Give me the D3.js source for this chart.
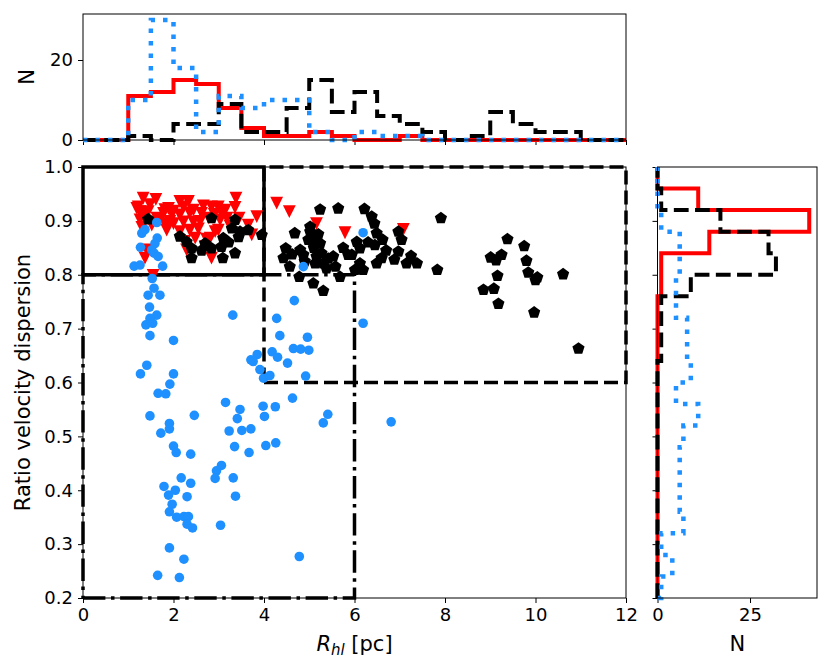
<!DOCTYPE html>
<html><head><meta charset="utf-8">
<script src="https://cdn.jsdelivr.net/npm/d3@7"></script>
<style>body{margin:0;background:#fff} svg text{font-family:"DejaVu Sans",sans-serif;fill:#000}</style>
</head><body>
<svg id="c" width="831" height="667"></svg>
<script>
// ---------------- data ----------------
const xTicks = [0, 2, 4, 6, 8, 10, 12];
const yTicks = [0.2, 0.3, 0.4, 0.5, 0.6, 0.7, 0.8, 0.9, 1.0];
const topYTicks = [0, 20];
const rightXTicks = [0, 25];

// top histogram (R_hl), bin edges and counts
const topEdges = [0,0.5,1,1.5,2,2.5,3,3.5,4,4.5,5,5.5,6,6.5,7,7.5,8,8.5,9,9.5,10,10.5,11,11.5,12];
const topRed   = [0,0,11,12,15,14,8,3,1,1,2,1,0,0,1,0,0,0,0,0,0,0,0,0];
const topBlack = [0,0,1,0,4,4,9,2,2,8,15,7,12,6,4,2,0,1,7,4,2,2,0,0];
const topBlue  = [0,0,10,30,18,2,11,8,10,10,2,0,2,1,1,0,0,0,0,0,0,0,0,0];

// right histogram (velocity dispersion ratio), bin edges bottom->top and counts
const rightEdges = [0.20,0.24,0.28,0.32,0.36,0.40,0.44,0.48,0.52,0.56,0.60,0.64,0.68,0.72,0.76,0.80,0.84,0.88,0.92,0.96,1.00];
const rightRed   = [0,0,0,0,0,0,0,0,0,0,0,0,0,0,1,1,14,41,11,0];
const rightBlack = [0,0,0,0,0,0,0,0,0,0,0,1,1,1,9,32,30,17,1,0];
const rightBlue  = [1,4,1,7,6,6,6,7,11,5,9,8,8,5,5,6,6,1,0,0];

// scatter points [R_hl, ratio]
const bluePoints = [
[1.47,0.740],[1.63,0.725],[1.48,0.719],[1.39,0.707],[1.54,0.710],[1.48,0.687],[2.00,0.678],[3.31,0.725],
[1.41,0.632],[1.27,0.616],[2.00,0.616],[1.92,0.597],[1.66,0.580],[1.83,0.579],
[1.48,0.538],[1.91,0.524],[2.46,0.539],[1.91,0.514],[1.72,0.506],[2.00,0.482],[2.06,0.470],[2.38,0.467],
[2.17,0.423],[1.79,0.407],[2.38,0.413],[2.04,0.400],[1.89,0.391],[2.30,0.388],[1.97,0.374],[1.91,0.360],
[2.07,0.350],[2.23,0.351],[2.33,0.351],[2.30,0.337],[2.42,0.330],[3.04,0.335],[1.91,0.293],[2.23,0.272],
[1.65,0.242],[2.13,0.238],[4.78,0.277],
[3.15,0.563],[3.47,0.550],[3.41,0.533],[3.23,0.510],[3.51,0.511],[3.71,0.514],[3.35,0.481],[3.67,0.470],
[3.06,0.446],[2.95,0.436],[2.92,0.422],[3.32,0.423],[3.37,0.389],
[3.98,0.556],[4.01,0.537],[4.25,0.555],[4.04,0.483],[4.26,0.488],[4.63,0.571],[5.41,0.541],[5.31,0.525],
[4.67,0.752],[4.28,0.719],[4.35,0.687],[4.96,0.684],[4.18,0.657],[4.30,0.647],[4.65,0.663],[4.81,0.662],[4.99,0.660],
[4.52,0.636],[3.85,0.652],[3.71,0.642],[3.76,0.639],[3.91,0.624],[3.99,0.608],[4.13,0.613],[4.92,0.612],
[6.19,0.710],[6.81,0.527],[6.19,0.878],[4.87,0.815],
[1.63,0.897],[1.37,0.884],[1.30,0.877],[1.64,0.868],[1.59,0.858],[1.27,0.851],[1.52,0.846],[1.57,0.840],[1.66,0.834],
[1.13,0.816],[1.26,0.818],[1.76,0.816],[1.53,0.793],[1.57,0.775],[1.44,0.762],[1.70,0.762]
];
const redPoints = [
[1.33,0.942],[1.61,0.940],[1.22,0.926],[1.26,0.917],[1.44,0.917],[2.14,0.936],[2.33,0.936],[2.22,0.926],
[1.89,0.923],[1.78,0.914],[1.96,0.914],[2.14,0.911],[2.44,0.920],[2.62,0.914],[2.84,0.926],[2.99,0.926],
[3.14,0.920],[3.38,0.942],[3.84,0.908],[4.28,0.933],[4.56,0.917],[1.63,0.905],[1.81,0.895],[2.00,0.895],
[2.22,0.898],[2.44,0.898],[3.03,0.902],[3.18,0.905],[3.65,0.892],[1.85,0.883],[2.14,0.880],[2.36,0.883],
[2.48,0.868],[2.81,0.868],[2.99,0.883],[3.73,0.874],[5.16,0.895],[5.79,0.878],[1.41,0.846],[1.37,0.831],
[2.29,0.846],[2.84,0.831],[1.55,0.799],[1.52,0.892],
[1.19,0.923],[1.81,0.921],[2.00,0.918],[3.06,0.915],[1.26,0.902],[1.70,0.902],[1.92,0.899],[2.59,0.899],
[2.92,0.880],[2.73,0.866],[1.35,0.912],[1.48,0.930],[1.30,0.888],[2.36,0.915],[2.25,0.862],
[2.66,0.928],[2.78,0.905],[2.55,0.885],[2.90,0.912],[2.70,0.852],[3.36,0.925],[3.25,0.890],[3.45,0.905],
[5.05,0.860],[7.08,0.884]
];
const blackPoints = [
[1.44,0.903],[2.84,0.905],[3.36,0.902],[3.29,0.886],[3.47,0.880],[3.65,0.883],[3.95,0.874],[2.14,0.871],
[2.29,0.861],[2.40,0.849],[2.40,0.831],[2.70,0.858],[2.84,0.849],[3.10,0.868],[3.06,0.852],[3.09,0.831],
[3.36,0.840],[2.62,0.845],[3.22,0.860],[3.44,0.870],
[5.24,0.921],[5.64,0.923],[4.68,0.877],[5.02,0.880],[5.09,0.865],[4.48,0.849],[4.43,0.831],[4.80,0.846],
[4.87,0.837],[5.24,0.858],[5.16,0.834],[5.31,0.821],[5.53,0.834],[5.68,0.796],[5.09,0.784],[5.31,0.770],
[4.78,0.796],[5.94,0.837],[4.57,0.815],[5.38,0.812],[4.62,0.838],[4.90,0.825],
[6.22,0.922],[6.38,0.908],[6.44,0.895],[5.02,0.889],[4.98,0.865],[5.27,0.840],[5.86,0.837],[6.05,0.861],
[6.12,0.849],[6.49,0.877],[6.45,0.855],[6.97,0.880],[7.04,0.865],[6.97,0.843],[6.60,0.831],[6.49,0.821],
[7.15,0.821],[7.38,0.821],[5.13,0.821],[6.12,0.821],[6.19,0.809],[6.01,0.809],
[5.10,0.850],[5.20,0.875],[5.42,0.830],[5.75,0.850],[5.58,0.815],[6.30,0.860],[6.70,0.845],[6.88,0.828],
[6.62,0.865],[7.25,0.835],
[7.91,0.905],[7.83,0.809],[9.38,0.866],[9.75,0.853],[9.01,0.832],[9.25,0.837],[9.13,0.827],[9.80,0.826],
[9.16,0.798],[9.84,0.804],[10.04,0.795],[10.61,0.801],[8.85,0.772],[9.08,0.774],[9.18,0.746],[9.97,0.730],
[10.95,0.663],[10.00,0.790]
];

// selection boxes [x0, x1, y0, y1]
const boxSolid   = [0, 4, 0.8, 1.0];
const boxDashed  = [4, 12, 0.6, 1.0];
const boxDashDot = [0, 6, 0.2, 0.8];

// ---------------- layout ----------------
const svg = d3.select('#c');
const M = {l:83, r:626, t:167, b:598};
const T = {t:14, b:140};
const R = {l:657.5, r:817};
const FS = 18;

const x = d3.scaleLinear([0, 12], [M.l, M.r]);
const y = d3.scaleLinear([0.2, 1.0], [M.b, M.t]);
const yTop = d3.scaleLinear([0, 31.5], [T.b, T.t]);
const xRight = d3.scaleLinear([0, 43.1], [R.l, R.r]);

function styleAxis(g){
  g.select('.domain').remove();
  g.selectAll('.tick line').attr('stroke','#000').attr('stroke-width',1);
  g.selectAll('.tick text').attr('font-size',FS).style('font-family','"DejaVu Sans",sans-serif');
}

// main axes
svg.append('g').attr('transform',`translate(0,${M.b})`)
  .call(d3.axisBottom(x).tickValues(xTicks).tickFormat(d3.format('d')).tickSize(5).tickPadding(5)).call(styleAxis);
svg.append('g').attr('transform',`translate(${M.l},0)`)
  .call(d3.axisLeft(y).tickValues(yTicks).tickFormat(d3.format('.1f')).tickSize(5).tickPadding(5)).call(styleAxis);
// top axes
svg.append('g').attr('transform',`translate(0,${T.b})`)
  .call(d3.axisBottom(x).tickValues(xTicks).tickFormat('').tickSize(5)).call(styleAxis);
svg.append('g').attr('transform',`translate(${M.l},0)`)
  .call(d3.axisLeft(yTop).tickValues(topYTicks).tickFormat(d3.format('d')).tickSize(5).tickPadding(5)).call(styleAxis);
// right axes
svg.append('g').attr('transform',`translate(0,${M.b})`)
  .call(d3.axisBottom(xRight).tickValues(rightXTicks).tickFormat(d3.format('d')).tickSize(5).tickPadding(5)).call(styleAxis);
svg.append('g').attr('transform',`translate(${R.l},0)`)
  .call(d3.axisLeft(y).tickValues(yTicks).tickFormat('').tickSize(5)).call(styleAxis);

// ---------------- boxes ----------------
const rectLine = d3.line();
function boxPath(b){
  return rectLine([[x(b[0]),y(b[2])],[x(b[1]),y(b[2])],[x(b[1]),y(b[3])],[x(b[0]),y(b[3])],[x(b[0]),y(b[2])]]);
}
svg.append('path').attr('d',boxPath(boxDashDot)).attr('fill','none').attr('stroke','#000')
  .attr('stroke-width',3.5).attr('stroke-dasharray','22.4,5.6,3.5,5.6');
svg.append('path').attr('d',boxPath(boxDashed)).attr('fill','none').attr('stroke','#000')
  .attr('stroke-width',3.5).attr('stroke-dasharray','14,6');
svg.append('path').attr('d',boxPath(boxSolid)).attr('fill','none').attr('stroke','#000')
  .attr('stroke-width',3.5);

// ---------------- scatter ----------------
const triDown = {draw(ctx, size){const r=Math.sqrt(size)/2; ctx.moveTo(-r,-r); ctx.lineTo(r,-r); ctx.lineTo(0,r); ctx.closePath();}};
const pentagon = {draw(ctx, size){const r=Math.sqrt(size)/2; for(let k=0;k<5;k++){const a=-Math.PI/2+k*2*Math.PI/5; const px=r*Math.cos(a), py=r*Math.sin(a); if(k===0) ctx.moveTo(px,py); else ctx.lineTo(px,py);} ctx.closePath();}};

svg.append('g').selectAll('path').data(redPoints).join('path')
  .attr('d', d3.symbol().type(triDown).size(12.8*12.8))
  .attr('transform', d=>`translate(${x(d[0])},${y(d[1])})`).attr('fill','#ff0000');
svg.append('g').selectAll('path').data(blackPoints).join('path')
  .attr('d', d3.symbol().type(pentagon).size(12.8*12.8))
  .attr('transform', d=>`translate(${x(d[0])},${y(d[1])})`).attr('fill','#000');
svg.append('g').selectAll('circle').data(bluePoints).join('circle')
  .attr('cx', d=>x(d[0])).attr('cy', d=>y(d[1])).attr('r',4.8).attr('fill','#1e90ff');

// ---------------- histograms ----------------
function topStep(counts){
  const pts=[[x(topEdges[0]), yTop(0)]];
  counts.forEach((c,i)=>{pts.push([x(topEdges[i]), yTop(c)]); pts.push([x(topEdges[i+1]), yTop(c)]);});
  pts.push([x(topEdges[topEdges.length-1]), yTop(0)]);
  return d3.line()(pts);
}
function rightStep(counts){
  const pts=[[xRight(0), y(rightEdges[0])]];
  counts.forEach((c,i)=>{pts.push([xRight(c), y(rightEdges[i])]); pts.push([xRight(c), y(rightEdges[i+1])]);});
  pts.push([xRight(0), y(rightEdges[rightEdges.length-1])]);
  return d3.line()(pts);
}
const histStyles = [
  {top:topRed, right:rightRed, color:'#ff0000', w:4, dash:null},
  {top:topBlack, right:rightBlack, color:'#000', w:4, dash:'14.8,6.4'},
  {top:topBlue, right:rightBlue, color:'#1e90ff', w:4.5, dash:'4.5,8'}
];
histStyles.forEach(s=>{
  [topStep(s.top), rightStep(s.right)].forEach(d=>{
    const p = svg.append('path').attr('d',d).attr('fill','none').attr('stroke',s.color)
      .attr('stroke-width',s.w).attr('stroke-linejoin','miter');
    if(s.dash) p.attr('stroke-dasharray',s.dash);
  });
});

// ---------------- frames ----------------
[[M.l,M.t,M.r,M.b],[M.l,T.t,M.r,T.b],[R.l,M.t,R.r,M.b]].forEach(f=>{
  svg.append('rect').attr('x',f[0]).attr('y',f[1]).attr('width',f[2]-f[0]).attr('height',f[3]-f[1])
    .attr('fill','none').attr('stroke','#000').attr('stroke-width',1);
});

// ---------------- labels ----------------
svg.append('text').attr('transform',`translate(30,${(M.t+M.b)/2}) rotate(-90)`)
  .attr('text-anchor','middle').attr('font-size',21).text('Ratio velocity dispersion');
svg.append('text').attr('transform',`translate(34,${(T.t+T.b)/2}) rotate(-90)`)
  .attr('text-anchor','middle').attr('font-size',21).text('N');
svg.append('text').attr('x',(R.l+R.r)/2).attr('y',651).attr('text-anchor','middle').attr('font-size',21).text('N');
const xl = svg.append('text').attr('x',(M.l+M.r)/2).attr('y',651).attr('text-anchor','middle').attr('font-size',21);
xl.append('tspan').attr('font-style','italic').text('R');
xl.append('tspan').attr('font-style','italic').attr('font-size',15).attr('dy',4).text('hl');
xl.append('tspan').attr('dy',-4).text(' [pc]');
</script>
</body></html>
